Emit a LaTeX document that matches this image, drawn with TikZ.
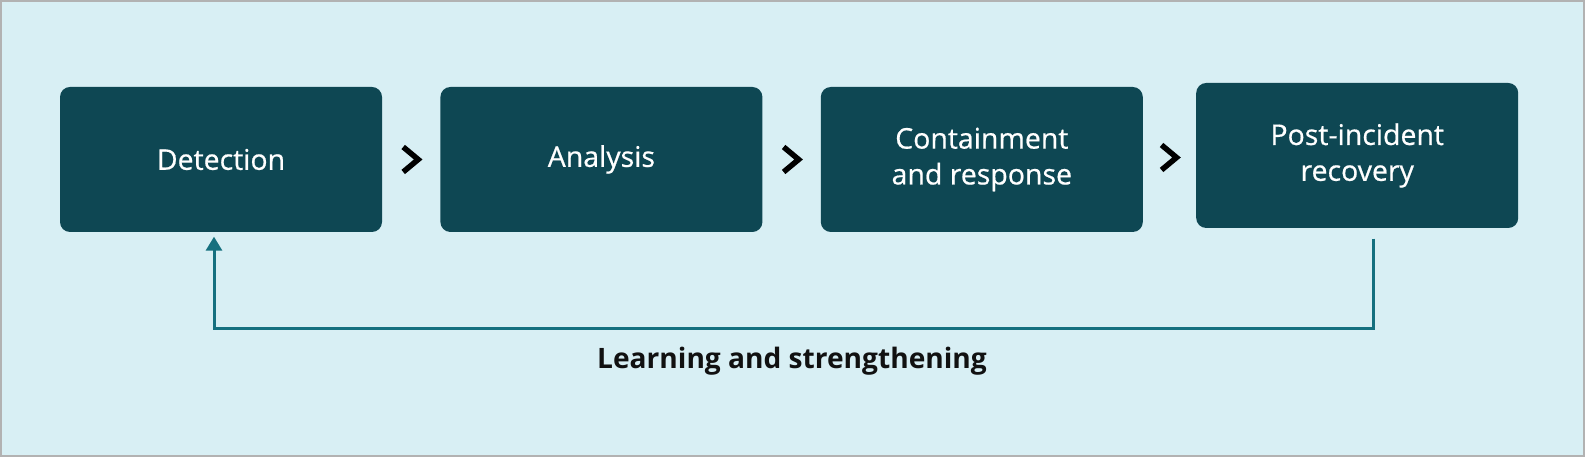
\documentclass[tikz,border=0pt]{standalone}
\usepackage{fontspec}
\setmainfont{Open Sans}
\usepackage{tikz}
\usetikzlibrary{calc}
\usetikzlibrary{positioning}
\usetikzlibrary{arrows.meta}

\definecolor{paper}{HTML}{D8EFF4}
\definecolor{boxteal}{HTML}{0E4753}
\definecolor{loopteal}{HTML}{15707F}
\definecolor{ink}{HTML}{111111}

\begin{document}
\begin{tikzpicture}[
		stage/.style={fill=boxteal, rounded corners=0.1cm, minimum width=3.22cm, minimum height=1.45cm, inner sep=0pt, text=white, align=center, font=\fontsize{8.1}{10.2}\selectfont\addfontfeature{FakeBold=0.6}},
		chevron/.style={draw=black, line width=0.055cm, miter limit=4},
		feedback/.style={draw=loopteal, line width=0.03cm, -{Triangle[width=0.16cm,length=0.14cm]}},
		node distance=0.57cm
	]
			\useasboundingbox (0,0) rectangle (15.85,4.57);
			\draw[fill=paper, draw=gray!60, line width=0.02cm] (0.01,0.01) rectangle (15.84,4.56);

			\node[stage] (det) at (2.21, 2.975){Detection};
			\node[stage, right=of det] (ana){Analysis};
			\node[stage, right=of ana] (cont){Containment\\and response};
			\node[stage, right=0.52cm of cont, yshift=0.04cm] (post){Post-incident\\recovery};

			\foreach \a/\b in {det/ana, ana/cont, cont/post}{
				\coordinate (mid) at ($(\a.east)!0.5!(\b.west)$);
				\draw[chevron] ($(mid)+(-0.08,0.125)$)--($(mid)+(0.07,0)$)--($(mid)+(-0.08,-0.125)$);
			}

			\draw[feedback] ([xshift=0.165cm, yshift=-0.1cm]post.south) -- ++(0,-0.9) -| ([xshift=-0.07cm, yshift=-0.04cm]det.south);

			\node[text=ink, font=\fontsize{8}{9}\selectfont\bfseries] (lesson) at (7.92, 0.96){Learning and strengthening};
		\end{tikzpicture}
\end{document}
